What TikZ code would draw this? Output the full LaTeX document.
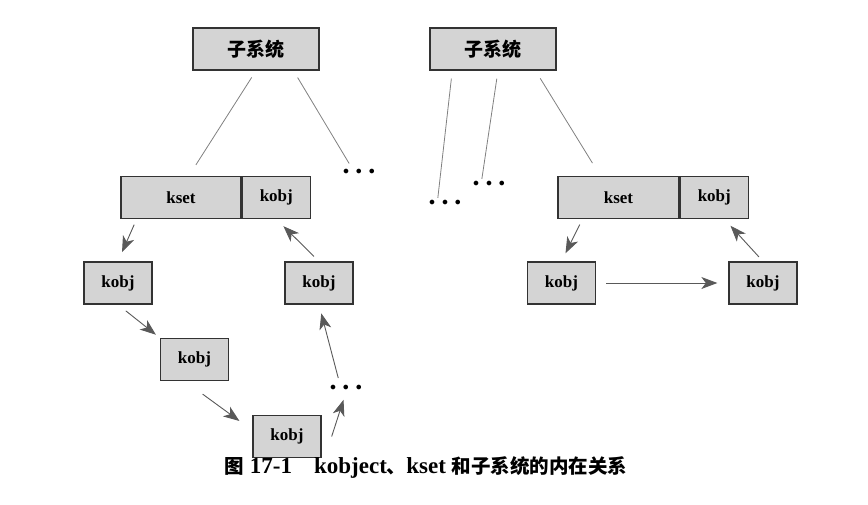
\documentclass[tikz,border=0pt]{standalone}
\usepackage{fontspec}
\setmainfont{Liberation Serif}
\newfontfamily\cjk{Noto Sans CJK SC}
\usetikzlibrary{arrows.meta, positioning}

\begin{document}
\begin{tikzpicture}[
    x=1pt, y=-1pt,
    box/.style={rectangle, draw=black!80, fill=black!17, line width=1.3pt, inner sep=0pt, minimum height=42pt, font=\fontsize{17}{20}\selectfont\bfseries},
    sbox/.style={box, minimum width=126pt, font=\fontsize{19}{22}\selectfont\cjk\bfseries},
    kbox/.style={box, minimum width=68pt},
    dots/.style={inner sep=0pt, minimum width=34pt, minimum height=8pt, font=\fontsize{13}{13}\selectfont},
    link/.style={draw=black!50, line width=0.8pt},
    arr/.style={-{Stealth[length=16pt, width=12pt, inset=4.5pt]}, draw=black!65, line width=0.9pt}
]
\useasboundingbox (0,0) rectangle (868,504);

% subsystems
\node[sbox] (sub1) at (256,49) {子系统};
\node[sbox] (sub2) at (493,49) {子系统};

% kset + embedded kobj
\node[box, minimum width=120pt] (kset1) at (181,197.5) {kset};
\node[kbox, right=0pt of kset1] (kobjp1) {kobj};
\node[box, minimum width=121pt] (kset2) at (618.5,197.5) {kset};
\node[kbox, right=0pt of kset2] (kobjp2) {kobj};

% member kobjects
\node[kbox] (kobj1) at (118,283) {kobj};
\node[kbox] (kobj2) at (194.5,359.5) {kobj};
\node[kbox] (kobj3) at (287,436.5) {kobj};
\node[kbox] (kobj4) at (319,283) {kobj};
\node[kbox] (kobj5) at (561.5,283) {kobj};
\node[kbox] (kobj6) at (763,283) {kobj};

% ellipses
\node[dots] (dots1) at (359,172) {$\bullet$\hspace{7pt}$\bullet$\hspace{7pt}$\bullet$};
\node[dots] (dots2) at (445,203) {$\bullet$\hspace{7pt}$\bullet$\hspace{7pt}$\bullet$};
\node[dots] (dots3) at (489,184) {$\bullet$\hspace{7pt}$\bullet$\hspace{7pt}$\bullet$};
\node[dots] (dots4) at (346,388) {$\bullet$\hspace{7pt}$\bullet$\hspace{7pt}$\bullet$};

% caption
\node[font=\fontsize{23}{25}\selectfont\bfseries] (cap) at (426,467)
  {{\fontsize{19.5}{22}\selectfont\cjk 图} 17-1\hspace{22pt}kobject{\fontsize{19.5}{22}\selectfont\cjk 、}kset {\fontsize{19.5}{22}\selectfont\cjk 和子系统的内在关系}};

\draw[link, shorten <=8pt, shorten >=13pt] (sub1.south) -- (kset1.70);
\draw[link, shorten <=8pt, shorten >=5pt] (sub1.-30) -- (dots1.150);
\draw[link, shorten <=8pt, shorten >=1pt] (sub2.-152) -- (dots2.150);
\draw[link, shorten <=8pt, shorten >=1pt] (sub2.-77) -- (dots3.150);
\draw[link, shorten <=9pt, shorten >=15pt] (sub2.-27) -- (kset2.130);

\draw[arr, shorten <=6pt, shorten >=10pt] (kset1.-154) -- (kobj1.north);
\draw[arr, shorten <=10pt, shorten >=5pt] (kobj1.south) -- (kobj2.north west);
\draw[arr, shorten <=22pt, shorten >=16pt] (kobj2.-114) -- (kobj3.170);
\draw[arr, shorten >=8pt] ([xshift=10pt]kobj3.east) -- (dots4.south);
\draw[arr, shorten <=6pt, shorten >=9pt] (dots4.146) -- (kobj4.south);
\draw[arr, shorten <=7pt, shorten >=10pt] (kobj4.north) -- (kobjp1.south);

\draw[arr, shorten <=6pt, shorten >=9pt] (kset2.-149) -- (kobj5.north);
\draw[arr, shorten <=10pt, shorten >=11pt] (kobj5.east) -- (kobj6.west);
\draw[arr, shorten <=6pt, shorten >=9pt] (kobj6.north) -- (kobjp2.-65);

\end{tikzpicture}
\end{document}
